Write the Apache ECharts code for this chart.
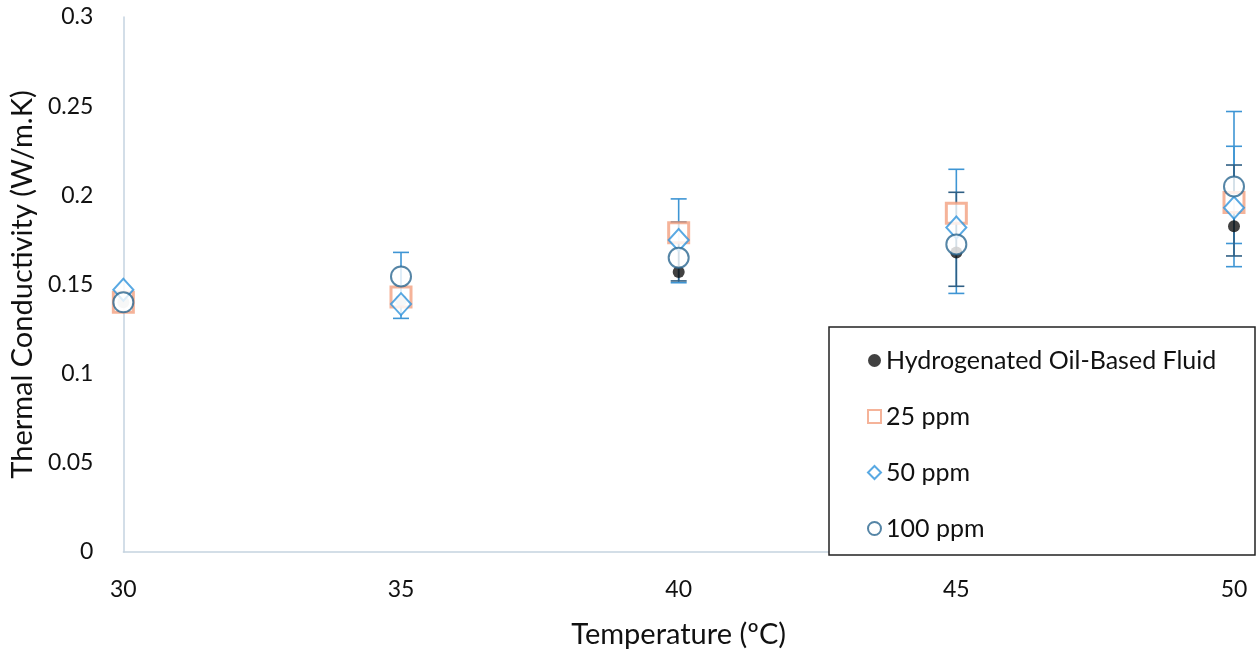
<!DOCTYPE html>
<html>
<head>
<meta charset="utf-8">
<script src="https://cdn.jsdelivr.net/npm/echarts@6/dist/echarts.min.js"></script>
<style>
  html, body { margin: 0; padding: 0; background: #fff; }
  #main { width: 1258px; height: 656px; }
</style>
</head>
<body>
<div id="main"></div>
<script>
const temps = [30, 35, 40, 45, 50];
const baseFluid = [0.14, 0.141, 0.157, 0.168, 0.1826];
const ppm25 = [0.14, 0.143, 0.179, 0.19, 0.196];
const ppm50 = [0.147, 0.139, 0.175, 0.182, 0.193];
const ppm100 = [0.14, 0.1545, 0.165, 0.1725, 0.205];
// [temperature, low, high]
const errBlue = [[35, 0.131, 0.168], [40, 0.151, 0.198], [45, 0.145, 0.2146], [50, 0.16, 0.247], [50, 0.173, 0.2275]];
const errDark = [[40, 0.152, 0.185], [45, 0.149, 0.2017], [50, 0.166, 0.217]];

const font = "Lato, 'Open Sans', sans-serif";
const pairs = (ys) => temps.map((t, i) => [t, ys[i]]);

function errorSeries(data, color) {
  return {
    type: "custom",
    silent: true,
    z: 1,
    data: data,
    renderItem(params, api) {
      const top = api.coord([api.value(0), api.value(2)]);
      const bot = api.coord([api.value(0), api.value(1)]);
      const w = 8;
      const style = { stroke: color, lineWidth: 1.6 };
      return {
        type: "group",
        children: [
          { type: "line", shape: { x1: top[0], y1: top[1], x2: bot[0], y2: bot[1] }, style },
          { type: "line", shape: { x1: top[0] - w, y1: top[1], x2: top[0] + w, y2: top[1] }, style },
          { type: "line", shape: { x1: bot[0] - w, y1: bot[1], x2: bot[0] + w, y2: bot[1] }, style },
        ],
      };
    },
  };
}

const chart = echarts.init(document.getElementById("main"));
chart.setOption({
  animation: false,
  grid: { left: 122, right: 24, top: 17, bottom: 104 },
  xAxis: {
    type: "value",
    min: 30,
    max: 50,
    interval: 5,
    name: "Temperature (ºC)",
    nameLocation: "middle",
    nameGap: 68,
    nameTextStyle: { fontFamily: font, fontSize: 29, color: "#111" },
    axisLine: { lineStyle: { color: "#c5d3e0", width: 1.5 } },
    axisTick: { show: false },
    axisLabel: { fontFamily: font, fontSize: 23, color: "#111", margin: 26 },
    splitLine: { show: false },
  },
  yAxis: {
    type: "value",
    min: 0,
    max: 0.3,
    interval: 0.05,
    name: "Thermal Conductivity (W/m.K)",
    nameLocation: "middle",
    nameGap: 84,
    nameTextStyle: { fontFamily: font, fontSize: 29, color: "#111" },
    axisLine: { show: true, lineStyle: { color: "#c5d3e0", width: 1.5 } },
    axisTick: { show: false },
    axisLabel: {
      fontFamily: font, fontSize: 23, color: "#111", margin: 30,
      formatter: (v) => String(+v.toFixed(2)),
    },
    splitLine: { show: false },
  },
  legend: {
    orient: "vertical",
    left: 862,
    top: 343,
    itemGap: 31,
    itemWidth: 13,
    itemHeight: 13,
    z: 10,
    textStyle: { fontFamily: font, fontSize: 25, color: "#111", padding: [0, 0, 0, 0] },
    data: [
      { name: "Hydrogenated Oil-Based Fluid", icon: "circle" },
      { name: "25 ppm", icon: "rect" },
      { name: "50 ppm", icon: "diamond" },
      { name: "100 ppm", icon: "circle" },
    ],
  },
  graphic: [
    {
      type: "rect",
      shape: { x: 829, y: 327, width: 426, height: 228 },
      style: { fill: "#fff", stroke: "#222", lineWidth: 1.5 },
      z: 5,
    },
  ],
  series: [
    errorSeries(errBlue, "#3e95d4"),
    errorSeries(errDark, "#2f5f84"),
    {
      name: "Hydrogenated Oil-Based Fluid",
      type: "scatter",
      data: pairs(baseFluid),
      symbol: "circle",
      symbolSize: 12,
      itemStyle: { color: "#111" },
      z: 2,
    },
    {
      name: "25 ppm",
      type: "scatter",
      data: pairs(ppm25),
      symbol: "rect",
      symbolSize: 20,
      itemStyle: { color: "#fff", borderColor: "#f2a07f", borderWidth: 3 },
      z: 3,
    },
    {
      name: "50 ppm",
      type: "scatter",
      data: pairs(ppm50),
      symbol: "diamond",
      symbolSize: [20, 22],
      itemStyle: { color: "#fff", borderColor: "#2f93dc", borderWidth: 2 },
      z: 4,
    },
    {
      name: "100 ppm",
      type: "scatter",
      data: pairs(ppm100),
      symbol: "circle",
      symbolSize: 20,
      itemStyle: { color: "#fff", borderColor: "#2a6690", borderWidth: 2 },
      z: 4,
    },
  ],
});
</script>
</body>
</html>
